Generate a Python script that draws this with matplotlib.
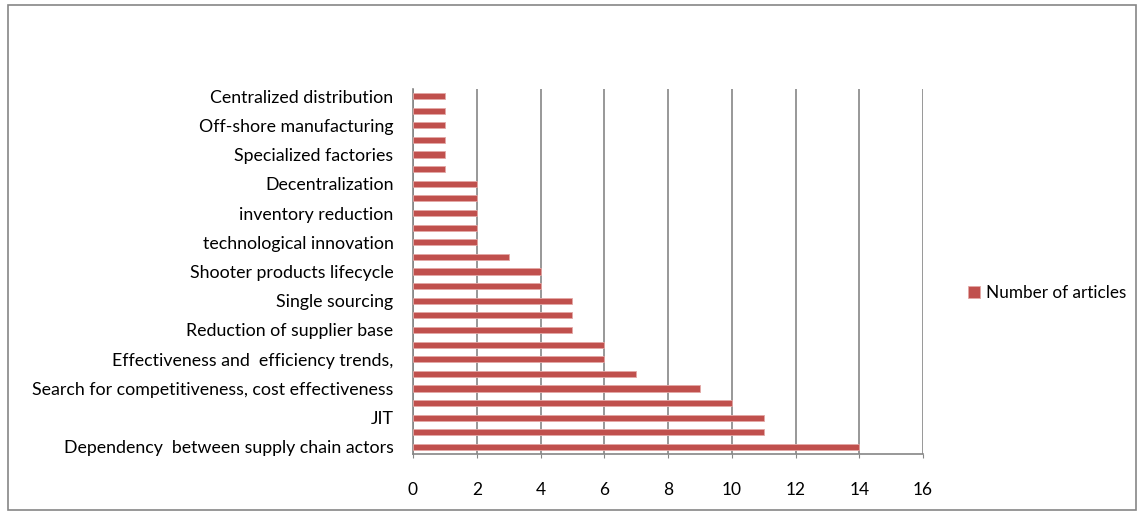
import matplotlib
matplotlib.use("Agg")
import matplotlib.pyplot as plt
from matplotlib.patches import Rectangle

categories = [
    "Dependency  between supply chain actors", "",
    "JIT", "",
    "Search for competitiveness, cost effectiveness", "",
    "Effectiveness and  efficiency trends,", "",
    "Reduction of supplier base", "",
    "Single sourcing", "",
    "Shooter products lifecycle", "",
    "technological innovation", "",
    "inventory reduction", "",
    "Decentralization", "",
    "Specialized factories", "",
    "Off-shore manufacturing", "",
    "Centralized distribution",
]
values = [14, 11, 11, 10, 9, 7, 6, 6, 5, 5, 5, 4, 4, 3, 2, 2, 2, 2, 2, 1, 1, 1, 1, 1, 1]
xticks = [0, 2, 4, 6, 8, 10, 12, 14, 16]
series_name = "Number of articles"

plt.rcParams['font.family'] = ['Lato', 'DejaVu Sans']

fig = plt.figure(figsize=(11.38, 5.13), dpi=100)
ax = fig.add_axes([413/1138, 1-454.3/513, 510/1138, (454.3-88.7)/513])

pos = list(range(len(values)))
ax.barh(pos, values, height=0.42, color="#C0504D", edgecolor="#E3A8A6", linewidth=0.6,
        label=series_name, zorder=3)
ax.set_ylim(-0.5, len(values) - 0.5)
ax.set_xlim(0, 16)
ax.set_xticks(xticks)
ax.set_xticklabels([str(t) for t in xticks], fontsize=12.5)
ax.set_yticks(pos)
ax.set_yticklabels(categories, fontsize=12.8)
ax.tick_params(axis='y', length=0, pad=14)
ax.tick_params(axis='x', length=3, pad=17, color="#868686", direction='out')
ax.xaxis.grid(True, color="#868686", linewidth=1.2, zorder=0)
ax.set_axisbelow(True)
for s in ['top', 'right']:
    ax.spines[s].set_visible(False)
for s in ['left', 'bottom']:
    ax.spines[s].set_color("#868686")
    ax.spines[s].set_linewidth(1.2)

fig.legend(loc='center left', bbox_to_anchor=(953/1138, 1-293/513), frameon=False,
           fontsize=12.3, handlelength=0.7, handleheight=0.7, handletextpad=0.35)

fig.patches.append(Rectangle((8/1138, 3/513), 1128/1138, 505/513, transform=fig.transFigure,
                             fill=False, edgecolor="#868686", linewidth=1.2))

fig.savefig("out.png", dpi=100)
